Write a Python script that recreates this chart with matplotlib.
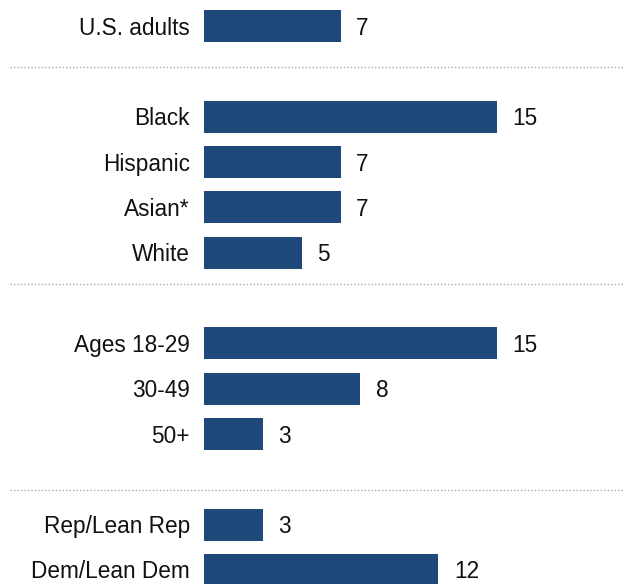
import matplotlib.pyplot as plt

labels = ["U.S. adults", "Black", "Hispanic", "Asian*", "White",
          "Ages 18-29", "30-49", "50+", "Rep/Lean Rep", "Dem/Lean Dem"]
values = [7, 15, 7, 7, 5, 15, 8, 3, 3, 12]
# row slots, leaving blank rows between groups
slots = [0, 2, 3, 4, 5, 7, 8, 9, 11, 12]
separators = [0.9, 5.7, 10.24]

plt.rcParams['font.family'] = ['Liberation Sans', 'DejaVu Sans']

fig = plt.figure(figsize=(6.23, 5.84), dpi=100)
ax = fig.add_axes([204 / 623, 0, 419 / 623, 1])
ax.set_xlim(0, 419 / 19.53)
ax.set_ylim(12.31, -0.574)

ax.barh(slots, values, height=0.705, color="#1f497b", edgecolor="none")

for s, v, lab in zip(slots, values, labels):
    ax.text(v + 0.8, s - 0.01, str(v), va="center_baseline", ha="left",
            fontsize=16.3, color="#111111")
    ax.text(-0.72, s - 0.01, lab, va="center_baseline", ha="right",
            fontsize=16.3, color="#111111")

for y in separators:
    ax.plot([-194 / 19.53, 419 / 19.53], [y, y], linestyle=(0, (1, 1.5)),
            color="#a8a8a8", linewidth=1, clip_on=False)

ax.axis("off")
fig.savefig("out.png", dpi=100)
